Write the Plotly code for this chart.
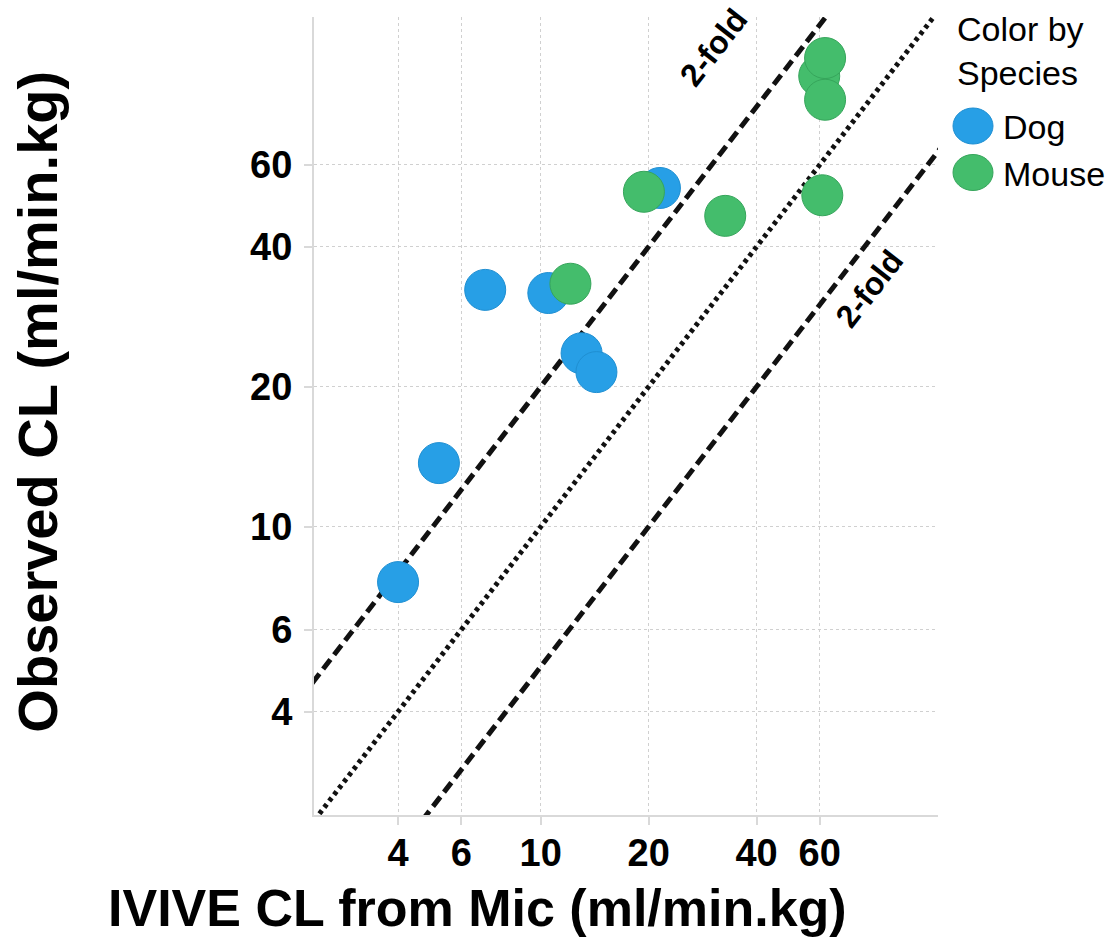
import plotly.graph_objects as go

# IVIVE-predicted vs observed clearance (ml/min.kg)
dog_ivive = [4.0, 5.2, 7.0, 10.5, 13.0, 14.3, 21.5]
dog_obs = [7.6, 13.7, 32.3, 31.8, 23.6, 21.5, 53.5]

mouse_ivive = [12.1, 19.4, 32.7, 61.0, 59.8, 62.1, 62.1]
mouse_obs = [33.3, 52.5, 46.6, 51.6, 93.1, 101.8, 82.8]

tick_vals = [4, 6, 10, 20, 40, 60]
tick_text = ["4", "6", "10", "20", "40", "60"]

fold = 2
line_x = [2.0, 140.0]

BLUE = "#279fe6"
GREEN = "#44bd6c"
FONT = "Liberation Sans"

fig = go.Figure()

# unity and 2-fold guide lines
fig.add_trace(go.Scatter(x=line_x, y=[v * fold for v in line_x], mode="lines",
                         line=dict(color="#111111", width=5, dash="12px,6px"),
                         showlegend=False, hoverinfo="skip"))
fig.add_trace(go.Scatter(x=line_x, y=line_x, mode="lines",
                         line=dict(color="#111111", width=5, dash="4px,4px"),
                         showlegend=False, hoverinfo="skip"))
fig.add_trace(go.Scatter(x=line_x, y=[v / fold for v in line_x], mode="lines",
                         line=dict(color="#111111", width=5, dash="12px,6px"),
                         showlegend=False, hoverinfo="skip"))

fig.add_trace(go.Scatter(x=dog_ivive, y=dog_obs, mode="markers", name="Dog",
                         marker=dict(size=41, color=BLUE,
                                     line=dict(color="#1f8fd2", width=1)),
                         cliponaxis=False, showlegend=False))
fig.add_trace(go.Scatter(x=mouse_ivive, y=mouse_obs, mode="markers", name="Mouse",
                         marker=dict(size=41, color=GREEN,
                                     line=dict(color="#36a55b", width=1)),
                         cliponaxis=False, showlegend=False))

axis_common = dict(
    type="log",
    tickmode="array",
    tickvals=tick_vals,
    ticktext=tick_text,
    tickfont=dict(family=FONT, size=38, color="black", weight="bold"),
    showgrid=True,
    gridcolor="#d0d0d0",
    gridwidth=1,
    griddash="dot",
    showline=True,
    linecolor="#d9d9d9",
    linewidth=2,
    ticks="outside",
    ticklen=8,
    tickcolor="#d9d9d9",
    tickwidth=2,
    zeroline=False,
    mirror=False,
)

fig.update_xaxes(range=[0.3676, 2.108], ticklabelstandoff=-5, **axis_common)
fig.update_yaxes(range=[0.380, 2.096], ticklabelstandoff=4, **axis_common)

annotations = [
    dict(text="IVIVE CL from Mic (ml/min.kg)", xref="paper", yref="paper",
         x=0.262, y=(815 - 938) / 798, xanchor="center", yanchor="bottom",
         showarrow=False, borderpad=0,
         font=dict(family=FONT, size=52, color="black", weight="bold")),
    dict(text="Observed CL (ml/min.kg)", xref="paper", yref="paper",
         x=(38 - 314) / 624, y=0.518, xanchor="center", yanchor="middle",
         showarrow=False, textangle=-90,
         font=dict(family=FONT, size=56, color="black", weight="bold")),
    dict(text="2-fold", x=1.4806, y=2.030, xref="x", yref="y", showarrow=False,
         textangle=-52, xanchor="center", yanchor="middle", borderpad=0,
         font=dict(family=FONT, size=32, color="black", weight="bold")),
    dict(text="2-fold", x=1.916, y=1.511, xref="x", yref="y", showarrow=False,
         textangle=-52, xanchor="center", yanchor="middle", borderpad=0,
         font=dict(family=FONT, size=32, color="black", weight="bold")),
    # legend title and entries
    dict(text="Color by<br>Species", xref="paper", yref="paper",
         x=(955 - 314) / 624, y=(815 - 8) / 798, xanchor="left", yanchor="top",
         align="left", showarrow=False,
         font=dict(family=FONT, size=34, color="black")),
    dict(text="Dog", xref="paper", yref="paper",
         x=(1001 - 314) / 624, y=(815 - 127) / 798, xanchor="left", yanchor="middle",
         showarrow=False, font=dict(family=FONT, size=34, color="black")),
    dict(text="Mouse", xref="paper", yref="paper",
         x=(1001 - 314) / 624, y=(815 - 174) / 798, xanchor="left", yanchor="middle",
         showarrow=False, font=dict(family=FONT, size=34, color="black")),
]

legend_swatches = []
for cy, col, edge in [(126, BLUE, "#1f8fd2"), (172.5, GREEN, "#36a55b")]:
    legend_swatches.append(dict(
        type="circle", xref="paper", yref="paper",
        xsizemode="pixel", ysizemode="pixel",
        xanchor=(973 - 314) / 624, yanchor=(815 - cy) / 798,
        x0=-20, x1=20, y0=-18, y1=18,
        fillcolor=col, line=dict(color=edge, width=1)))

fig.update_layout(
    width=1115,
    height=939,
    margin=dict(l=314, r=177, t=17, b=124),
    paper_bgcolor="white",
    plot_bgcolor="white",
    showlegend=False,
    annotations=annotations,
    shapes=legend_swatches,
)

fig.write_html("out.html")
